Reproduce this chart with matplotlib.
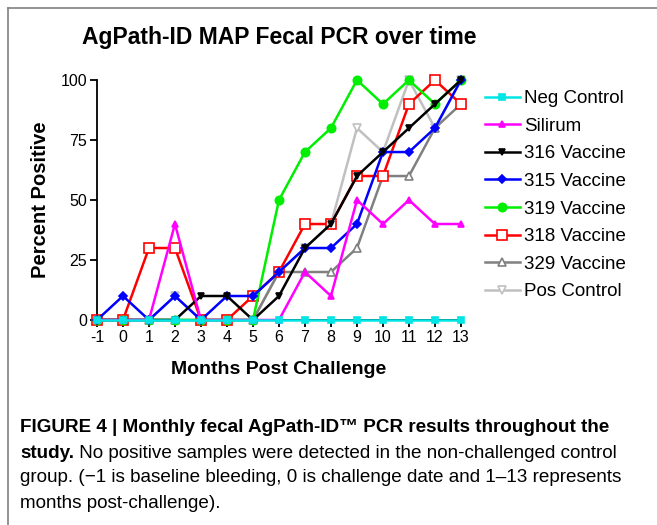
import matplotlib
matplotlib.use("Agg")
import matplotlib.pyplot as plt
from matplotlib.lines import Line2D

plt.rcParams['font.family'] = ['Liberation Sans', 'DejaVu Sans']
plt.rcParams['axes.unicode_minus'] = False

months = [-1, 0, 1, 2, 3, 4, 5, 6, 7, 8, 9, 10, 11, 12, 13]

neg_control = [0, 0, 0, 0, 0, 0, 0, 0, 0, 0, 0, 0, 0, 0, 0]
silirum     = [0, 0, 0, 40, 0, 0, 0, 0, 20, 10, 50, 40, 50, 40, 40]
vac_316     = [0, 0, 0, 0, 10, 10, 0, 10, 30, 40, 60, 70, 80, 90, 100]
vac_315     = [0, 10, 0, 10, 0, 10, 10, 20, 30, 30, 40, 70, 70, 80, 100]
vac_319     = [0, 0, 0, 0, 0, 0, 0, 50, 70, 80, 100, 90, 100, 90, 100]
vac_318     = [0, 0, 30, 30, 0, 0, 10, 20, 40, 40, 60, 60, 90, 100, 90]
vac_329     = [0, 0, 0, 0, 0, 0, 0, 20, 20, 20, 30, 60, 60, 80, 90]
pos_control = [0, 0, 0, 10, 0, 0, 0, 20, 30, 40, 80, 70, 100, 80, 100]

series = [
    ("Neg Control", neg_control, "#00E5E5", "s", "#00E5E5", 5),
    ("Silirum", silirum, "#FF00FF", "^", "#FF00FF", 5),
    ("316 Vaccine", vac_316, "#000000", "v", "#000000", 5),
    ("315 Vaccine", vac_315, "#0000FF", "D", "#0000FF", 4),
    ("319 Vaccine", vac_319, "#00EE00", "o", "#00EE00", 6),
    ("318 Vaccine", vac_318, "#FF0000", "s", "white", 7),
    ("329 Vaccine", vac_329, "#808080", "^", "white", 6),
    ("Pos Control", pos_control, "#C0C0C0", "v", "white", 6),
]

fig = plt.figure(figsize=(6.57, 5.25), dpi=100)
ax = fig.add_axes([0.1476, 0.3905, 0.554, 0.457])

n = len(series)
for i, (name, vals, col, mk, mfc, ms) in enumerate(series):
    ax.plot(months, vals, color=col, lw=1.8, marker=mk, ms=ms,
            mfc=mfc, mec=col, mew=1.2, label=name, zorder=10 + n - i,
            clip_on=False)

ax.set_xlim(-1, 13)
ax.set_ylim(0, 100)
ax.set_xticks(months)
ax.set_yticks([0, 25, 50, 75, 100])
for s in ["top", "right"]:
    ax.spines[s].set_visible(False)
for s in ["left", "bottom"]:
    ax.spines[s].set_linewidth(1.3)
ax.tick_params(length=5, width=1.3, labelsize=11.5, pad=2)

ax.set_title("AgPath-ID MAP Fecal PCR over time", fontsize=16.5,
             fontweight="bold", pad=26)
ax.set_xlabel("Months Post Challenge", fontsize=14, fontweight="bold",
              labelpad=12)
ax.set_ylabel("Percent Positive", fontsize=14.5, fontweight="bold",
              labelpad=8)

ax.legend(loc="upper left", bbox_to_anchor=(1.045, 0.99), frameon=False,
          fontsize=13.5, handlelength=1.85, handletextpad=0.25,
          labelspacing=0.56, borderaxespad=0)

# caption below the chart
cap_fs = 13.6
x0 = 20 / 657
fig.text(x0, 1 - 428 / 525,
         "FIGURE 4 | Monthly fecal AgPath-ID\u2122 PCR results throughout the",
         fontsize=cap_fs, fontweight="bold", va="center")
b = fig.text(x0, 1 - 453 / 525, "study.", fontsize=cap_fs,
             fontweight="bold", va="center")
ax.annotate(" No positive samples were detected in the non-challenged control",
            xy=(1, 0.5), xycoords=b, va="center", ha="left", fontsize=cap_fs,
            annotation_clip=False)
fig.text(x0, 1 - 478 / 525,
         "group. (\u22121 is baseline bleeding, 0 is challenge date and 1\u201313 represents",
         fontsize=cap_fs, va="center")
fig.text(x0, 1 - 503 / 525, "months post-challenge).", fontsize=cap_fs,
         va="center")

# frame lines (top and left)
fx = 8 / 657
fy = 1 - 8 / 525
fig.add_artist(Line2D([fx, 1], [fy, fy], transform=fig.transFigure,
                      color="#808080", lw=1.2))
fig.add_artist(Line2D([fx, fx], [0, fy], transform=fig.transFigure,
                      color="#808080", lw=1.2))

fig.savefig("out.png", dpi=100)
